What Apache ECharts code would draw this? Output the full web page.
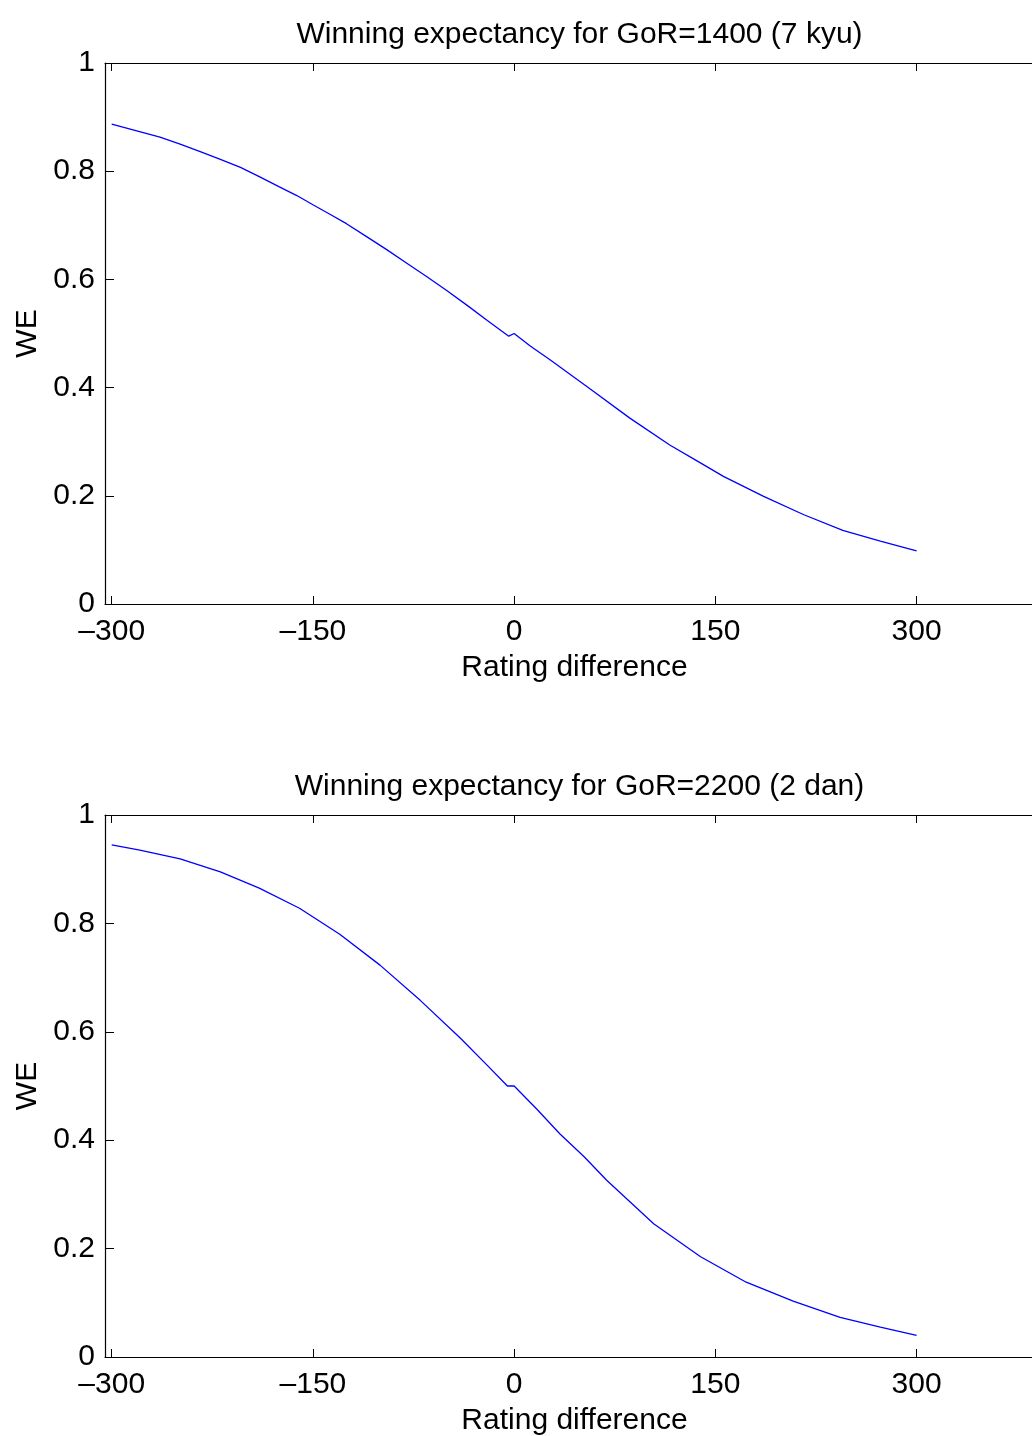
<!DOCTYPE html>
<html>
<head>
<meta charset="utf-8">
<script src="https://cdn.jsdelivr.net/npm/echarts@6/dist/echarts.min.js"></script>
<style>html,body{margin:0;padding:0;background:#fff;}#c{width:1032px;height:1436px;}</style>
</head>
<body>
<div id="c"></div>
<script>
// Chart text
const titles = ['Winning expectancy for GoR=1400 (7 kyu)', 'Winning expectancy for GoR=2200 (2 dan)'];
const xName = 'Rating difference';
const yName = 'WE';
const xTicks = [-300, -150, 0, 150, 300];

// Top panel: GoR=1400
const topX = [-300, -264, -249, -234, -219, -204, -190, -175, -162, -150, -137, -125, -110, -95, -80, -65, -50, -35, -20, -4, 0, 12, 27, 57, 86, 116, 136, 156, 186, 216, 245, 273, 300];
const topY = [0.887, 0.863, 0.850, 0.836, 0.822, 0.807, 0.790, 0.771, 0.755, 0.738, 0.720, 0.703, 0.679, 0.655, 0.630, 0.605, 0.579, 0.552, 0.524, 0.495, 0.500, 0.477, 0.451, 0.397, 0.344, 0.294, 0.265, 0.236, 0.199, 0.165, 0.136, 0.116, 0.098];

// Bottom panel: GoR=2200
const botX = [-300, -279, -249, -219, -190, -160, -130, -100, -70, -40, -20, -5, 0, 17, 34, 52, 69, 104, 139, 173, 208, 243, 273, 300];
const botY = [0.945, 0.935, 0.919, 0.895, 0.865, 0.828, 0.780, 0.723, 0.658, 0.588, 0.538, 0.500, 0.500, 0.457, 0.412, 0.370, 0.326, 0.246, 0.185, 0.138, 0.103, 0.073, 0.055, 0.040];

const FONT = 'Liberation Sans';
const FS = 30;
const grids = [
  {left: 105, top: 63, width: 939, height: 541, outerBoundsMode: 'none', containLabel: false},
  {left: 105, top: 815, width: 939, height: 542, outerBoundsMode: 'none', containLabel: false}
];
const fmtX = v => String(v).replace('-', '\u2013');

const xAxes = [], yAxes = [], series = [], titleList = [];
const datasets = [[topX, topY], [botX, botY]];
grids.forEach((g, i) => {
  titleList.push({
    text: titles[i], left: g.left + g.width / 2, top: g.top - 48, textAlign: 'center',
    textStyle: {fontFamily: FONT, fontSize: FS, fontWeight: 'normal', color: '#000'}
  });
  xAxes.push({
    type: 'value', gridIndex: i, min: -305, max: 395, position: 'bottom',
    name: xName, nameLocation: 'middle', nameGap: 49,
    nameTextStyle: {fontFamily: FONT, fontSize: FS, color: '#000'},
    axisLine: {show: true, onZero: false, lineStyle: {color: '#000', width: 1.2}},
    axisTick: {show: true, inside: true, length: 8, customValues: xTicks, lineStyle: {color: '#000'}},
    axisLabel: {show: true, customValues: xTicks, formatter: fmtX, margin: 13, fontFamily: FONT, fontSize: FS, color: '#000'},
    splitLine: {show: false}
  });
  xAxes.push({
    type: 'value', gridIndex: i, min: -305, max: 395, position: 'top',
    axisLine: {show: true, onZero: false, lineStyle: {color: '#000', width: 1.2}},
    axisTick: {show: true, inside: true, length: 8, customValues: xTicks, lineStyle: {color: '#000'}},
    axisLabel: {show: false},
    splitLine: {show: false}
  });
  yAxes.push({
    type: 'value', gridIndex: i, min: 0, max: 1, interval: 0.2, position: 'left',
    name: yName, nameLocation: 'middle', nameGap: 62, nameRotate: 90,
    nameTextStyle: {fontFamily: FONT, fontSize: FS, color: '#000'},
    axisLine: {show: true, onZero: false, lineStyle: {color: '#000', width: 1.2}},
    axisTick: {show: true, inside: true, length: 9, lineStyle: {color: '#000'}},
    axisLabel: {show: true, margin: 10, fontFamily: FONT, fontSize: FS, color: '#000'},
    splitLine: {show: false}
  });
  const [xs, ys] = datasets[i];
  series.push({
    type: 'line', xAxisIndex: i * 2, yAxisIndex: i,
    data: xs.map((x, k) => [x, ys[k]]),
    showSymbol: false, symbol: 'none', smooth: false,
    lineStyle: {color: '#0000ff', width: 1.3},
    animation: false
  });
});

const chart = echarts.init(document.getElementById('c'), null, {renderer: 'canvas'});
chart.setOption({
  animation: false,
  backgroundColor: '#fff',
  title: titleList,
  grid: grids,
  xAxis: xAxes,
  yAxis: yAxes,
  series: series
});
</script>
</body>
</html>
